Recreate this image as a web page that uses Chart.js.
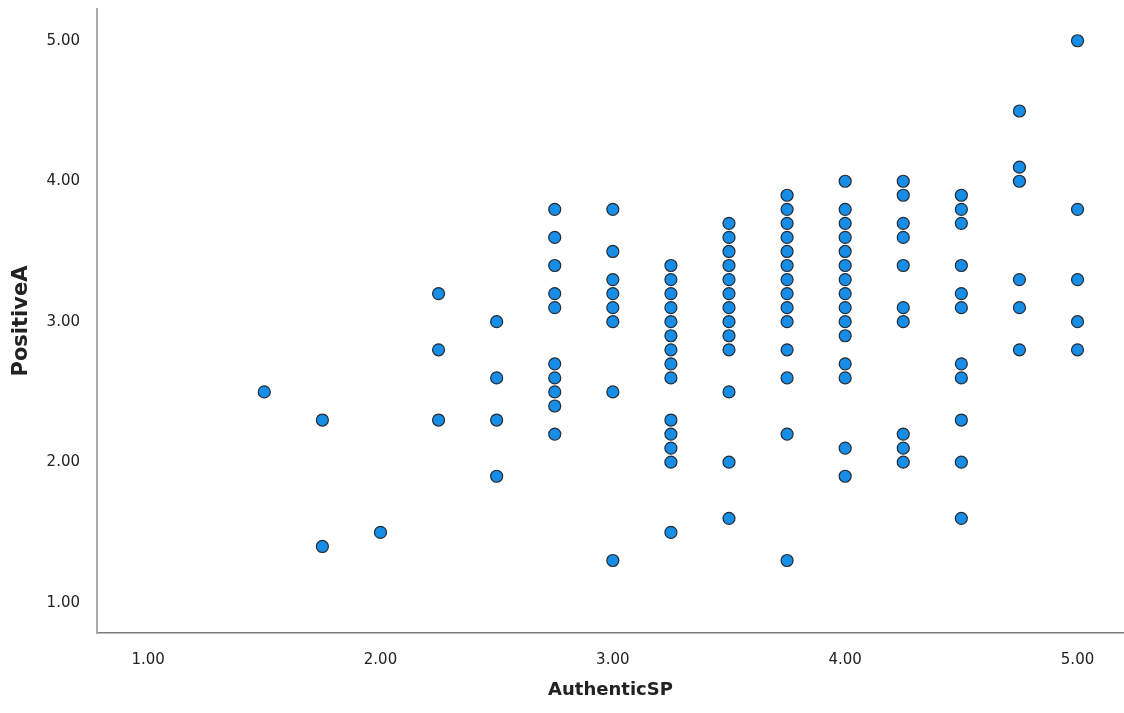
<!DOCTYPE html>
<html>
<head>
<meta charset="utf-8">
<script src="https://cdn.jsdelivr.net/npm/chart.js@4"></script>
<style>
  html, body { margin: 0; padding: 0; background: #fff; }
  #wrap { width: 1124px; height: 713px; }
</style>
</head>
<body>
<div id="wrap"><canvas id="chart"></canvas></div>
<script>
// AuthenticSP levels (x) and the PositiveA values seen in each column (y)
const xLevels = [1.5, 1.75, 2.0, 2.25, 2.5, 2.75, 3.0, 3.25, 3.5, 3.75, 4.0, 4.25, 4.5, 4.75, 5.0];
const yAt150 = [2.5];
const yAt175 = [2.3, 1.4];
const yAt200 = [1.5];
const yAt225 = [3.2, 2.8, 2.3];
const yAt250 = [3.0, 2.6, 2.3, 1.9];
const yAt275 = [3.8, 3.6, 3.4, 3.2, 3.1, 2.7, 2.6, 2.5, 2.4, 2.2];
const yAt300 = [3.8, 3.5, 3.3, 3.2, 3.1, 3.0, 2.5, 1.3];
const yAt325 = [3.4, 3.3, 3.2, 3.1, 3.0, 2.9, 2.8, 2.7, 2.6, 2.3, 2.2, 2.1, 2.0, 1.5];
const yAt350 = [3.7, 3.6, 3.5, 3.4, 3.3, 3.2, 3.1, 3.0, 2.9, 2.8, 2.5, 2.0, 1.6];
const yAt375 = [3.9, 3.8, 3.7, 3.6, 3.5, 3.4, 3.3, 3.2, 3.1, 3.0, 2.8, 2.6, 2.2, 1.3];
const yAt400 = [4.0, 3.8, 3.7, 3.6, 3.5, 3.4, 3.3, 3.2, 3.1, 3.0, 2.9, 2.7, 2.6, 2.1, 1.9];
const yAt425 = [4.0, 3.9, 3.7, 3.6, 3.4, 3.1, 3.0, 2.2, 2.1, 2.0];
const yAt450 = [3.9, 3.8, 3.7, 3.4, 3.2, 3.1, 2.7, 2.6, 2.3, 2.0, 1.6];
const yAt475 = [4.5, 4.1, 4.0, 3.3, 3.1, 2.8];
const yAt500 = [5.0, 3.8, 3.3, 3.0, 2.8];
const yColumns = [yAt150, yAt175, yAt200, yAt225, yAt250, yAt275, yAt300, yAt325,
  yAt350, yAt375, yAt400, yAt425, yAt450, yAt475, yAt500];
const tickValues = [1, 2, 3, 4, 5];

let points = [];
xLevels.forEach((x, i) => {
  yColumns[i].forEach((y) => points.push({ x: x, y: y }));
});

const setTicks = (scale) => {
  scale.ticks = tickValues.map((v) => ({ value: v }));
};

// ticks never sit on the edges here, so drop the label overhang padding
const noEdgePadding = (scale) => {
  scale.paddingTop = 0;
  scale.paddingBottom = 0;
  scale.paddingLeft = 0;
  scale.paddingRight = 0;
};

const config = {
  type: "scatter",
  data: {
    datasets: [
      {
        label: "PositiveA",
        data: points,
        pointRadius: 6,
        pointHoverRadius: 6,
        pointBackgroundColor: "#168de6",
        pointBorderColor: "#262b33",
        pointBorderWidth: 1.2,
      },
    ],
  },
  options: {
    responsive: false,
    animation: false,
    layout: { autoPadding: false, padding: { top: 9, left: 0, right: 0, bottom: 0 } },
    plugins: {
      legend: { display: false },
      tooltip: { enabled: false },
    },
    scales: {
      x: {
        type: "linear",
        min: 0.78,
        max: 5.2,
        afterBuildTicks: setTicks,
        afterFit: (scale) => { scale.height = 80; noEdgePadding(scale); },
        grid: { display: false },
        border: { display: true, color: "#7a7a7a", width: 1.5 },
        ticks: {
          padding: 10,
          color: "#222",
          font: { family: "DejaVu Sans", size: 15 },
          callback: (v) => Number(v).toFixed(2),
        },
        title: {
          display: true,
          text: "AuthenticSP",
          color: "#222",
          font: { family: "DejaVu Sans", size: 18, weight: "bold" },
          padding: { top: 0, bottom: 12 },
        },
      },
      y: {
        type: "linear",
        min: 0.784,
        max: 5.226,
        afterBuildTicks: setTicks,
        afterFit: (scale) => { scale.width = 97; noEdgePadding(scale); },
        grid: { display: false },
        border: { display: true, color: "#aaaaaa", width: 2 },
        ticks: {
          padding: 9,
          color: "#222",
          font: { family: "DejaVu Sans", size: 15 },
          callback: (v) => Number(v).toFixed(2),
        },
        title: {
          display: true,
          text: "PositiveA",
          color: "#222",
          font: { family: "DejaVu Sans", size: 21, weight: "bold" },
          padding: { top: 9, bottom: 0 },
        },
      },
    },
  },
};

const canvas = document.getElementById("chart");
canvas.width = 1124;
canvas.height = 713;
const chart = new Chart(canvas.getContext("2d"), config);
</script>
</body>
</html>
